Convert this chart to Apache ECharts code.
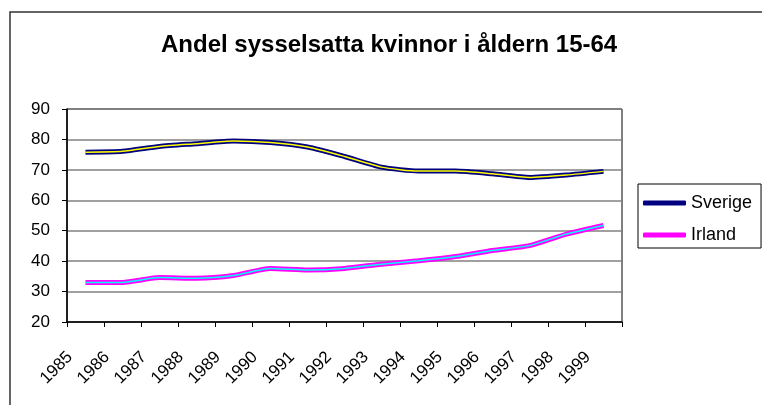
<!DOCTYPE html>
<html>
<head>
<meta charset="utf-8">
<script src="https://cdn.jsdelivr.net/npm/echarts@6/dist/echarts.min.js"></script>
<style>
	html, body { margin: 0; padding: 0; background: #fff; }
	#main { width: 762px; height: 405px; }
</style>
</head>
<body>
<div id="main"></div>
<script type="text/javascript">
// år (kategorier)
var years = ['1985','1986','1987','1988','1989','1990','1991','1992','1993','1994','1995','1996','1997','1998','1999'];
// andel sysselsatta kvinnor
var sverige = [75.8, 76.1, 77.7, 78.6, 79.5, 79.0, 77.5, 74.4, 70.9, 69.6, 69.6, 68.7, 67.5, 68.3, 69.5];
var irland = [33.0, 33.0, 34.6, 34.4, 35.3, 37.6, 37.1, 37.6, 39.0, 40.1, 41.5, 43.5, 45.1, 48.9, 51.7];
var yTicks = [20, 90, 10]; // min, max, steg

var myChart = echarts.init(document.getElementById('main'));

var option = {
	animation: false,
	backgroundColor: '#fff',
	textStyle: { fontFamily: 'Liberation Sans, Arial, sans-serif', color: '#000' },
	title: {
		text: 'Andel sysselsatta kvinnor i åldern 15-64',
		left: 161,
		top: 33,
		padding: 0,
		textStyle: { fontSize: 24, fontWeight: 'bold', color: '#000', fontFamily: 'Liberation Sans, Arial, sans-serif' }
	},
	graphic: [{
		type: 'rect',
		shape: { x: 10, y: 12, width: 800, height: 500 },
		style: { fill: 'none', stroke: '#333', lineWidth: 1.5 },
		silent: true
	}],
	legend: {
		data: ['Sverige', 'Irland'],
		orient: 'vertical',
		left: 638,
		top: 184,
		padding: [10, 9, 4, 5],
		itemGap: 14,
		itemWidth: 43,
		itemHeight: 5,
		icon: 'roundRect',
		borderColor: '#000',
		borderWidth: 1,
		textStyle: { fontSize: 18, color: '#000' }
	},
	grid: {
		left: 67, right: 140, top: 109, bottom: 83,
		show: true,
		borderColor: '#000',
		borderWidth: 1
	},
	xAxis: {
		type: 'category',
		data: years,
		boundaryGap: true,
		axisLine: { lineStyle: { color: '#000', width: 1.5 } },
		axisTick: { show: true, interval: 0, length: 5, lineStyle: { color: '#000' } },
		axisLabel: { interval: 0, rotate: 45, fontSize: 17, color: '#000', margin: 17, padding: [0, 22, 0, 0] },
		splitLine: { show: false }
	},
	yAxis: {
		type: 'value',
		min: yTicks[0],
		max: yTicks[1],
		interval: yTicks[2],
		axisLine: { show: true, lineStyle: { color: '#000', width: 1.5 } },
		axisTick: { show: true, length: 5, lineStyle: { color: '#000' } },
		axisLabel: { fontSize: 17, color: '#000', margin: 17 },
		splitLine: { show: true, lineStyle: { color: '#808080', width: 1.5 } }
	},
	series: [
		{
			name: 'Sverige', type: 'line', data: sverige, smooth: 0.2,
			symbol: 'none', color: '#000080',
			lineStyle: { color: '#000080', width: 5 }, z: 2
		},
		{
			name: 'Sverige-inre', type: 'line', data: sverige, smooth: 0.2,
			symbol: 'none', color: '#ffff00',
			lineStyle: { color: '#ffff00', width: 1.5 }, z: 3
		},
		{
			name: 'Irland', type: 'line', data: irland, smooth: 0.2,
			symbol: 'none', color: '#ff00ff',
			lineStyle: { color: '#ff00ff', width: 5 }, z: 2
		},
		{
			name: 'Irland-inre', type: 'line', data: irland, smooth: 0.2,
			symbol: 'none', color: '#00ffff',
			lineStyle: { color: '#00ffff', width: 1.5 }, z: 3
		}
	]
};
myChart.setOption(option);
</script>
</body>
</html>
